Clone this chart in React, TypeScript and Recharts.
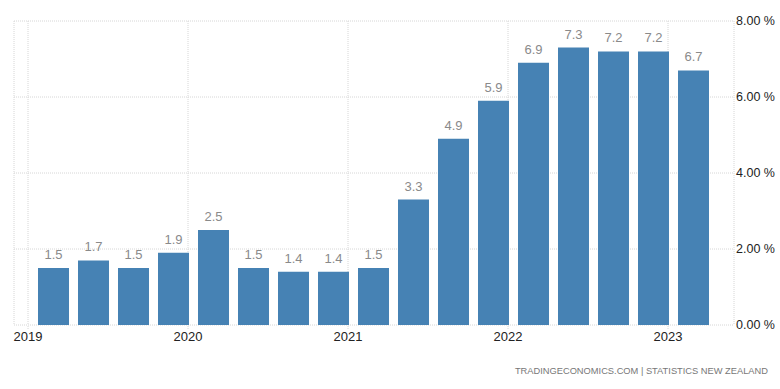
import { BarChart, Bar, XAxis, YAxis, CartesianGrid, LabelList } from "recharts";

const quarters = [
  "2019 Q1", "2019 Q2", "2019 Q3", "2019 Q4",
  "2020 Q1", "2020 Q2", "2020 Q3", "2020 Q4",
  "2021 Q1", "2021 Q2", "2021 Q3", "2021 Q4",
  "2022 Q1", "2022 Q2", "2022 Q3", "2022 Q4",
  "2023 Q1",
];
const inflation = [1.5, 1.7, 1.5, 1.9, 2.5, 1.5, 1.4, 1.4, 1.5, 3.3, 4.9, 5.9, 6.9, 7.3, 7.2, 7.2, 6.7];
const yearLabels = ["2019", "2020", "2021", "2022", "2023"];
const yTicks = [0, 2, 4, 6, 8];

const data = quarters.map((q, i) => ({ quarter: q, pos: i, value: inflation[i] }));
// year boundaries sit a bit before each year's first quarterly bar
const yearTickPositions = yearLabels.map((_, k) => k * 4 - 0.65);

export default function App() {
  return (
    <div
      style={{
        position: "absolute",
        left: 0,
        top: 0,
        width: 780,
        height: 389,
        background: "#fff",
        fontFamily: "'Liberation Sans', Arial, sans-serif",
      }}
    >
      <BarChart
        width={780}
        height={389}
        data={data}
        margin={{ top: 21, right: 0, left: 14, bottom: 34 }}
      >
        <CartesianGrid stroke="#d6d6d6" strokeDasharray="1 1" />
        <XAxis
          dataKey="pos"
          type="number"
          domain={[-1, 17]}
          ticks={yearTickPositions}
          tickFormatter={(_v: number, idx: number) => yearLabels[idx]}
          axisLine={false}
          tickLine={{ stroke: "#d6d6d6", strokeDasharray: "1 1" }}
          tickSize={4}
          tickMargin={3}
          height={30}
          tick={{ fill: "#222", fontSize: 13 }}
          allowDataOverflow
        />
        <YAxis
          orientation="right"
          domain={[0, 8]}
          ticks={yTicks}
          tickFormatter={(v: number) => `${v.toFixed(2)} %`}
          axisLine={false}
          tickLine={false}
          tickSize={0}
          tickMargin={2}
          width={46}
          tick={{ fill: "#222", fontSize: 12.5 }}
        />
        <Bar dataKey="value" fill="#4682b4" barSize={31} isAnimationActive={false}>
          <LabelList
            dataKey="value"
            position="top"
            offset={9}
            fill="#8a8a8a"
            fontSize={13}
            formatter={(v: number) => v.toFixed(1)}
          />
        </Bar>
      </BarChart>
      <div
        style={{
          position: "absolute",
          right: 12,
          top: 366,
          fontSize: 9.3,
          color: "#777",
          whiteSpace: "pre",
        }}
      >
        TRADINGECONOMICS.COM | STATISTICS NEW ZEALAND
      </div>
    </div>
  );
}
